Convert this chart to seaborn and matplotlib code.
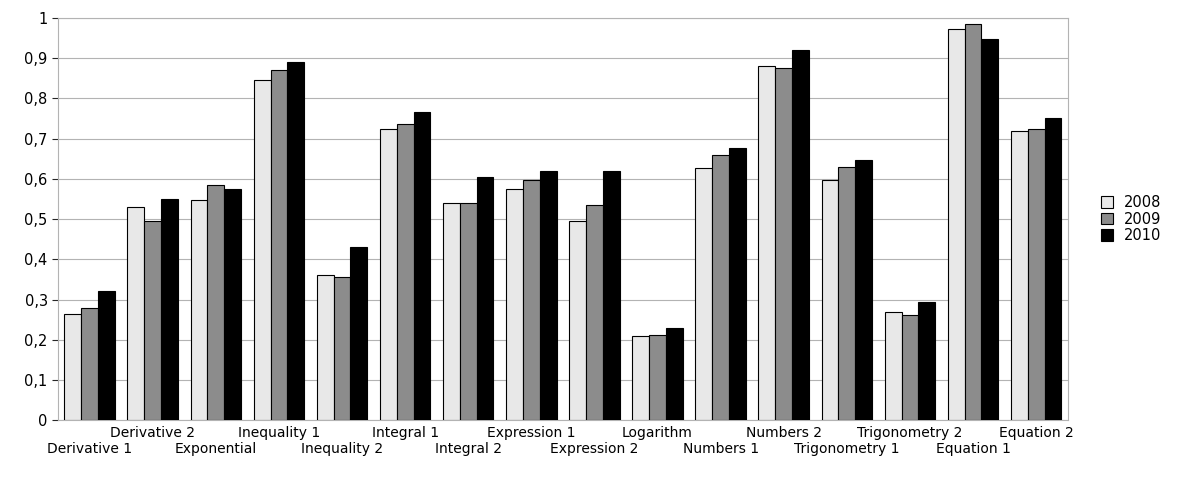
import matplotlib
matplotlib.use("Agg")
import matplotlib.pyplot as plt
import seaborn as sns
import pandas as pd

categories = ["Derivative 1","Derivative 2","Exponential","Inequality 1","Inequality 2",
              "Integral 1","Integral 2","Expression 1","Expression 2","Logarithm",
              "Numbers 1","Numbers 2","Trigonometry 1","Trigonometry 2","Equation 1","Equation 2"]
v2008 = [0.265,0.53,0.548,0.845,0.36,0.725,0.54,0.575,0.495,0.21,0.628,0.88,0.598,0.268,0.973,0.72]
v2009 = [0.28,0.495,0.585,0.87,0.355,0.735,0.54,0.598,0.535,0.212,0.66,0.875,0.63,0.262,0.985,0.725]
v2010 = [0.32,0.55,0.575,0.89,0.43,0.765,0.605,0.62,0.62,0.23,0.677,0.92,0.647,0.295,0.948,0.75]
years = ["2008","2009","2010"]

rows = []
for y, vals in zip(years, [v2008, v2009, v2010]):
    for c, v in zip(categories, vals):
        rows.append({"cat": c, "year": y, "val": v})
df = pd.DataFrame(rows)

sns.set_style("white")
plt.rcParams['font.family'] = ['DejaVu Sans']
plt.rcParams['text.color'] = 'black'
fig = plt.figure(figsize=(11.85, 4.83), dpi=100)
ax = fig.add_axes([0.049, 0.13, 0.852, 0.833])
sns.barplot(data=df, x="cat", y="val", hue="year", order=categories,
            palette=["#e8e8e8", "#8c8c8c", "#000000"], edgecolor="black",
            linewidth=0.8, width=0.8, ax=ax, zorder=3)
ax.set_ylim(0, 1)
ax.set_xlim(-0.5, len(categories) - 0.5)
ticks = [i / 10 for i in range(11)]
ax.set_yticks(ticks)
ax.set_yticklabels(["0" if t == 0 else ("1" if t == 1 else f"{t:.1f}".replace(".", ",")) for t in ticks], fontsize=10.5)
idx = list(range(len(categories)))
ax.set_xticks(idx[1::2])
ax.set_xticklabels(categories[1::2], fontsize=10)
ax.set_xticks(idx[0::2], minor=True)
ax.set_xticklabels(categories[0::2], minor=True, fontsize=10)
ax.tick_params(axis="x", which="major", length=0, pad=4, labelcolor="black")
ax.tick_params(axis="x", which="minor", length=0, pad=16, labelcolor="black")
ax.tick_params(axis="y", length=4, left=True, labelcolor="black")
ax.yaxis.grid(True, color="#b3b3b3", linewidth=0.8, zorder=0)
for s in ax.spines.values():
    s.set_color("#b3b3b3")
ax.set_xlabel("")
ax.set_ylabel("")
ax.legend(loc="center left", bbox_to_anchor=(1.02, 0.5), frameon=False, fontsize=10.5,
          handlelength=0.8, handleheight=0.8, labelspacing=0.1)
fig.savefig("out.png", dpi=100, facecolor="white")
